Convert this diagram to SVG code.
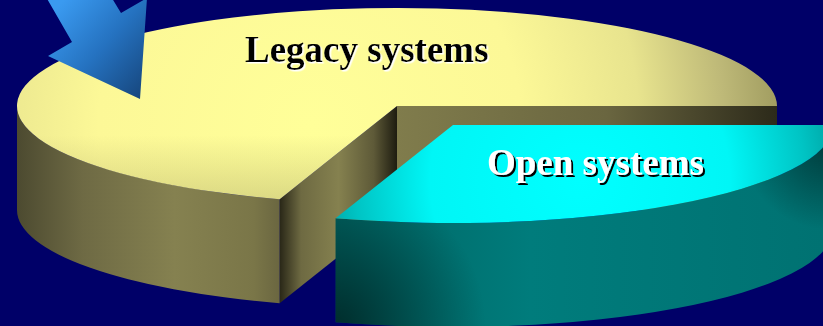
<svg xmlns="http://www.w3.org/2000/svg" width="823" height="326" viewBox="0 0 823 326">
  <defs>
    <style>
      .label { font-family: "Liberation Serif", "Times New Roman", serif; font-weight: bold; font-size: 37px; }
      .dark { fill: #000000; filter: url(#liftLight); }
      .light { fill: #FFFFFF; filter: url(#liftDark); }
    </style>
    <!-- crisp offset shadows behind the labels -->
    <filter id="liftLight" x="-5%" y="-20%" width="110%" height="140%">
      <feDropShadow dx="1.5" dy="1.5" stdDeviation="0" flood-color="#FFFFFF" flood-opacity="1"/>
    </filter>
    <filter id="liftDark" x="-5%" y="-20%" width="110%" height="140%">
      <feDropShadow dx="2" dy="2" stdDeviation="0" flood-color="#000000" flood-opacity="1"/>
    </filter>
    <!-- legacy slice shading -->
    <radialGradient id="legacyTop" gradientUnits="userSpaceOnUse" cx="310" cy="125" r="470">
      <stop offset="0" stop-color="#FFFF99"/>
      <stop offset="0.45" stop-color="#FCF897"/>
      <stop offset="0.7" stop-color="#E8E48E"/>
      <stop offset="0.88" stop-color="#BEB978"/>
      <stop offset="1" stop-color="#A09C60"/>
    </radialGradient>
    <linearGradient id="legacyRim" gradientUnits="userSpaceOnUse" x1="0" y1="135" x2="0" y2="205">
      <stop offset="0" stop-color="#6A6640" stop-opacity="0"/>
      <stop offset="1" stop-color="#6A6640" stop-opacity="0.25"/>
    </linearGradient>
    <linearGradient id="legacyWall" gradientUnits="userSpaceOnUse" x1="17" y1="0" x2="280" y2="0">
      <stop offset="0" stop-color="#4C4A30"/>
      <stop offset="0.25" stop-color="#6E6A44"/>
      <stop offset="0.6" stop-color="#858150"/>
      <stop offset="0.9" stop-color="#7A7648"/>
      <stop offset="1" stop-color="#6A6640"/>
    </linearGradient>
    <linearGradient id="legacyCutA" gradientUnits="userSpaceOnUse" x1="280" y1="0" x2="397" y2="0">
      <stop offset="0" stop-color="#2A2818"/>
      <stop offset="0.18" stop-color="#6E6A42"/>
      <stop offset="0.5" stop-color="#85814F"/>
      <stop offset="0.8" stop-color="#5E5A38"/>
      <stop offset="1" stop-color="#1E1C10"/>
    </linearGradient>
    <linearGradient id="legacyCutB" gradientUnits="userSpaceOnUse" x1="397" y1="0" x2="777" y2="0">
      <stop offset="0" stop-color="#807C4C"/>
      <stop offset="0.55" stop-color="#6A6640"/>
      <stop offset="1" stop-color="#2C2A1A"/>
    </linearGradient>
    <!-- open slice shading -->
    <radialGradient id="openTop" gradientUnits="userSpaceOnUse" cx="580" cy="180" r="300">
      <stop offset="0" stop-color="#00FFFF"/>
      <stop offset="0.5" stop-color="#00F6F6"/>
      <stop offset="0.75" stop-color="#00C4C4"/>
      <stop offset="1" stop-color="#008080"/>
    </radialGradient>
    <linearGradient id="openWall" gradientUnits="userSpaceOnUse" x1="336" y1="0" x2="823" y2="0">
      <stop offset="0" stop-color="#006462"/>
      <stop offset="0.4" stop-color="#007C7C"/>
      <stop offset="1" stop-color="#007272"/>
    </linearGradient>
    <radialGradient id="openWallShadeLeft" gradientUnits="userSpaceOnUse" cx="336" cy="326" r="150">
      <stop offset="0" stop-color="#000000" stop-opacity="0.55"/>
      <stop offset="1" stop-color="#000000" stop-opacity="0"/>
    </radialGradient>
    <radialGradient id="openWallShadeRight" gradientUnits="userSpaceOnUse" cx="830" cy="140" r="90">
      <stop offset="0" stop-color="#000000" stop-opacity="0.5"/>
      <stop offset="1" stop-color="#000000" stop-opacity="0"/>
    </radialGradient>
    <!-- pointer shading -->
    <linearGradient id="pointerFill" gradientUnits="userSpaceOnUse" x1="55" y1="10" x2="145" y2="90">
      <stop offset="0" stop-color="#3A9AF0"/>
      <stop offset="0.5" stop-color="#2572C0"/>
      <stop offset="1" stop-color="#174880"/>
    </linearGradient>
  </defs>

  <!-- backdrop -->
  <rect width="823" height="326" fill="#000068"/>

  <!-- legacy slice: cut faces, outer wall, top -->
  <g id="legacy">
    <path d="M397,106 L777,106 L777,210 L397,210 Z" fill="url(#legacyCutB)"/>
    <path d="M397,106 L279.6,199.2 L279.6,303.2 L397,210 Z" fill="url(#legacyCutA)"/>
    <path d="M279.6,199.2 A380,98 0 0,1 17,106 L17,210 A380,98 0 0,0 279.6,303.2 Z" fill="url(#legacyWall)"/>
    <path d="M397,106 L279.6,199.2 A380,98 0 1,1 777,106 Z" fill="url(#legacyTop)"/>
    <path d="M397,106 L279.6,199.2 A380,98 0 1,1 777,106 Z" fill="url(#legacyRim)"/>
    <text class="label dark" x="245" y="62">Legacy systems</text>
  </g>

  <!-- pointer arrow -->
  <g id="pointer">
    <polygon points="140,99 48,56 72,42 42,-10 107,-10 121,13 147,-2" fill="url(#pointerFill)"/>
  </g>

  <!-- open slice, pulled out of the pie -->
  <g id="open">
    <path d="M335.6,218.2 A380,98 0 0,0 833,125 L833,229 A380,98 0 0,1 335.6,322.2 Z" fill="url(#openWall)"/>
    <path d="M335.6,218.2 A380,98 0 0,0 833,125 L833,229 A380,98 0 0,1 335.6,322.2 Z" fill="url(#openWallShadeLeft)"/>
    <path d="M335.6,218.2 A380,98 0 0,0 833,125 L833,229 A380,98 0 0,1 335.6,322.2 Z" fill="url(#openWallShadeRight)"/>
    <path d="M453,125 L833,125 A380,98 0 0,1 335.6,218.2 Z" fill="url(#openTop)"/>
    <text class="label light" x="487" y="175">Open systems</text>
  </g>
</svg>
